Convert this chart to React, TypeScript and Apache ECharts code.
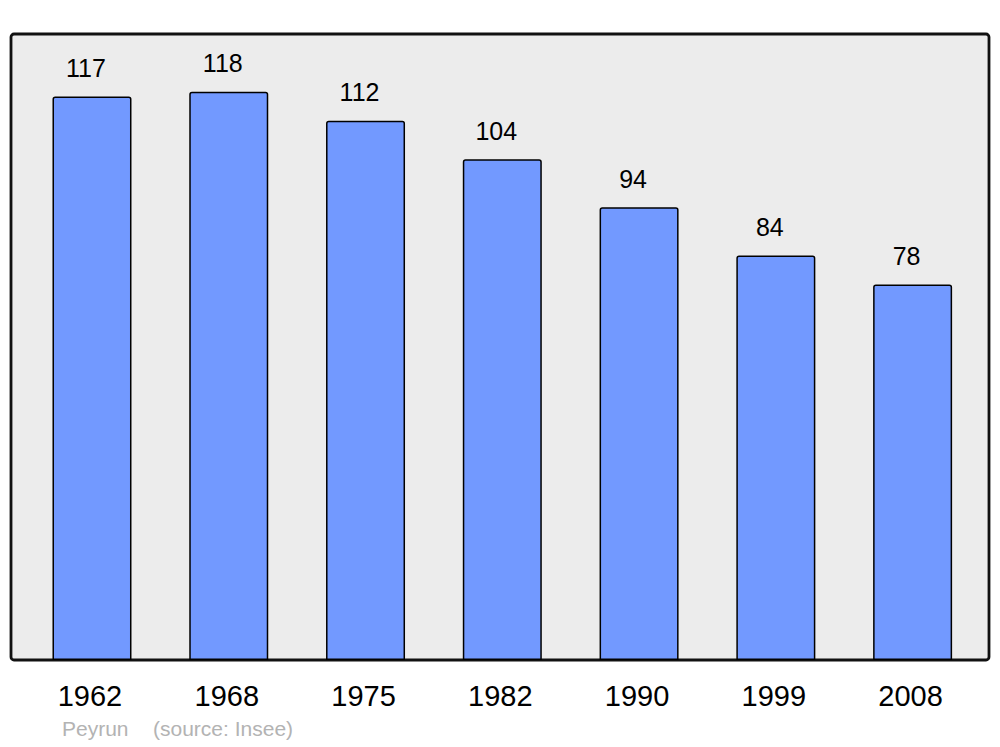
import React, { useEffect, useRef } from "react";
import * as echarts from "echarts";

const years = ["1962", "1968", "1975", "1982", "1990", "1999", "2008"];
const population = [117, 118, 112, 104, 94, 84, 78];
const footerPlace = "Peyrun";
const footerSource = "(source: Insee)";

export default function App() {
  const ref = useRef<HTMLDivElement>(null);
  useEffect(() => {
    document.body.style.margin = "0";
    const chart = echarts.init(ref.current!, null, { renderer: "svg" });
    chart.setOption({
      animation: false,
      textStyle: { fontFamily: "Liberation Sans, Arial, sans-serif" },
      graphic: [
        {
          type: "rect",
          z: -10,
          shape: { x: 11, y: 34, width: 978, height: 626, r: 3 },
          style: { fill: "#ececec", stroke: "#111", lineWidth: 2.8 },
        },
        {
          type: "text",
          left: 62,
          top: 718,
          style: { text: footerPlace, fill: "#b3b3b3", font: "21px Liberation Sans, Arial, sans-serif" },
        },
        {
          type: "text",
          left: 153,
          top: 718,
          style: { text: footerSource, fill: "#b3b3b3", font: "21px Liberation Sans, Arial, sans-serif" },
        },
      ],
      grid: { left: 23.6, right: 19, top: 34, bottom: 87, containLabel: false },
      xAxis: {
        type: "category",
        data: years,
        boundaryGap: true,
        axisLine: { show: false },
        axisTick: { show: false },
        axisLabel: {
          color: "#000",
          fontSize: 29,
          margin: 21,
          fontFamily: "Liberation Sans, Arial, sans-serif",
          padding: [0, 4, 0, 0],
        },
      },
      yAxis: {
        type: "value",
        min: 0,
        max: 130,
        show: false,
        splitLine: { show: false },
      },
      series: [
        {
          type: "bar",
          data: population,
          barWidth: 79,
          itemStyle: { color: "#7299ff", borderColor: "#000", borderWidth: 1.5, borderRadius: [2, 2, 0, 0] },
          label: {
            show: true,
            position: "top",
            distance: 16,
            offset: [-6, 0],
            color: "#000",
            fontSize: 25,
            fontFamily: "Liberation Sans, Arial, sans-serif",
          },
        },
      ],
    });
    return () => chart.dispose();
  }, []);
  return <div ref={ref} style={{ width: 1000, height: 747 }} />;
}
